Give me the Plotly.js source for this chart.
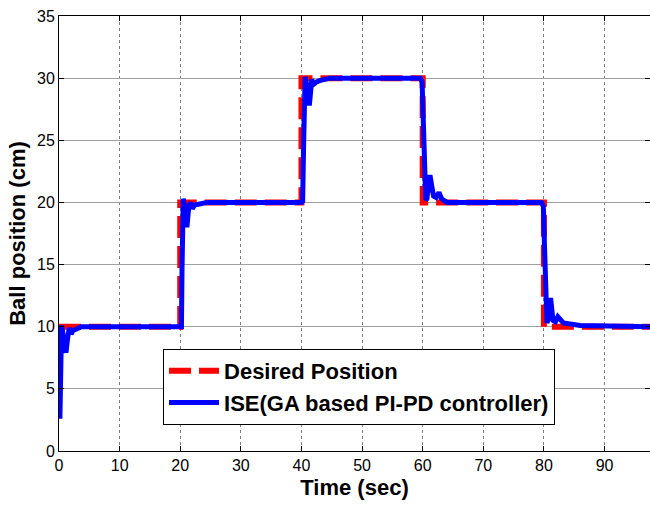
<!DOCTYPE html>
<html>
<head>
<meta charset="utf-8">
<script src="https://cdn.plot.ly/plotly-3.0.1.min.js"></script>
<style>html,body{margin:0;padding:0;background:#fff;}#chart{width:650px;height:509px;}</style>
</head>
<body>
<div id="chart"></div>
<script>
// Desired (reference) position
const desiredTime = [0, 20, 20, 40, 40, 60, 60, 80, 80, 97.5];
const desiredPos  = [10, 10, 20, 20, 30, 30, 20, 20, 10, 10];

// ISE (GA based PI-PD controller) response
const responseTime = [
  0.15, 0.3, 0.42, 0.6, 0.85, 1.15, 1.4, 1.7, 2.0, 2.3, 2.8, 3.7, 5,
  20.0, 20.2, 20.3, 20.5, 20.8, 21.1, 21.4, 21.7, 22.0, 22.4, 23.0, 24.4,
  40.0, 40.2, 40.35, 40.6, 40.9, 41.3, 41.7, 42.0, 42.5, 43.0, 44.7,
  59.6, 59.9, 60.1, 60.3, 60.5, 60.7, 61.0, 61.2, 61.5, 61.8, 62.2, 62.7, 63.1, 64.0,
  79.6, 79.9, 80.1, 80.3, 80.5, 80.7, 81.1, 81.5, 81.9, 82.3, 83.2, 86.0, 97.5
];
const responsePos = [
  2.6, 8.0, 10.1, 9.6, 8.6, 7.9, 9.0, 9.9, 9.4, 9.7, 9.8, 10.0, 10.0,
  10.0, 10.0, 14.8, 20.3, 19.5, 18.0, 19.6, 20.0, 19.5, 19.8, 19.85, 20.0,
  20.0, 20.1, 24.5, 30.1, 29.4, 27.8, 29.9, 29.5, 29.7, 29.8, 30.0,
  30.0, 29.7, 27.4, 23.4, 20.2, 20.3, 21.5, 22.2, 21.3, 20.5, 20.4, 20.8, 20.3, 20.0,
  20.0, 19.7, 16.4, 12.4, 10.3, 10.6, 12.3, 10.5, 10.4, 10.8, 10.3, 10.1, 10.0
];

const xTicks = [0, 10, 20, 30, 40, 50, 60, 70, 80, 90];
const yTicks = [0, 5, 10, 15, 20, 25, 30, 35];

const traces = [
  {
    x: desiredTime, y: desiredPos, type: 'scatter', mode: 'lines',
    name: 'Desired Position', legendgroup: 'a',
    line: {color: '#ff0000', width: 6, dash: '22px,8px', shape: 'linear'}
  },
  {
    x: responseTime, y: responsePos, type: 'scatter', mode: 'lines',
    name: 'ISE(GA based PI-PD controller)', legendgroup: 'b',
    line: {color: '#0000ff', width: 5}
  }
];

const axisCommon = {
  showline: true, linecolor: '#000', linewidth: 1, mirror: 'ticks',
  ticks: 'inside', ticklen: 5, tickcolor: '#000', tickwidth: 1,
  zeroline: false, showgrid: true,
  tickfont: {family: 'Liberation Sans, Arial, sans-serif', size: 16, color: '#000'}
};

const layout = {
  width: 650, height: 509,
  margin: {l: 59, r: 0, t: 16, b: 58},
  paper_bgcolor: '#fff', plot_bgcolor: '#fff',
  showlegend: true,
  xaxis: Object.assign({}, axisCommon, {
    range: [0, 97.5], tickvals: xTicks, ticktext: xTicks.map(String),
    gridcolor: '#808080', griddash: 'dot', gridwidth: 1,
    title: {text: 'Time (sec)', standoff: 6,
      font: {family: 'Liberation Sans, Arial, sans-serif', size: 22, color: '#000', weight: 'bold'}}
  }),
  yaxis: Object.assign({}, axisCommon, {
    range: [0, 35], tickvals: yTicks, ticktext: yTicks.map(String),
    gridcolor: '#a0a0a0', gridwidth: 1,
    title: {text: 'Ball position (cm)', standoff: 5,
      font: {family: 'Liberation Sans, Arial, sans-serif', size: 22, color: '#000', weight: 'bold'}}
  }),
  legend: {
    x: 0.176, y: 0.2345, xanchor: 'left', yanchor: 'top',
    bgcolor: '#fff', bordercolor: '#000', borderwidth: 1,
    traceorder: 'grouped', tracegroupgap: 0, itemwidth: 50,
    font: {family: 'Liberation Sans, Arial, sans-serif', size: 22, color: '#000', weight: 'bold'}
  }
};

Plotly.newPlot('chart', traces, layout, {displayModeBar: false, staticPlot: true});
</script>
</body>
</html>
